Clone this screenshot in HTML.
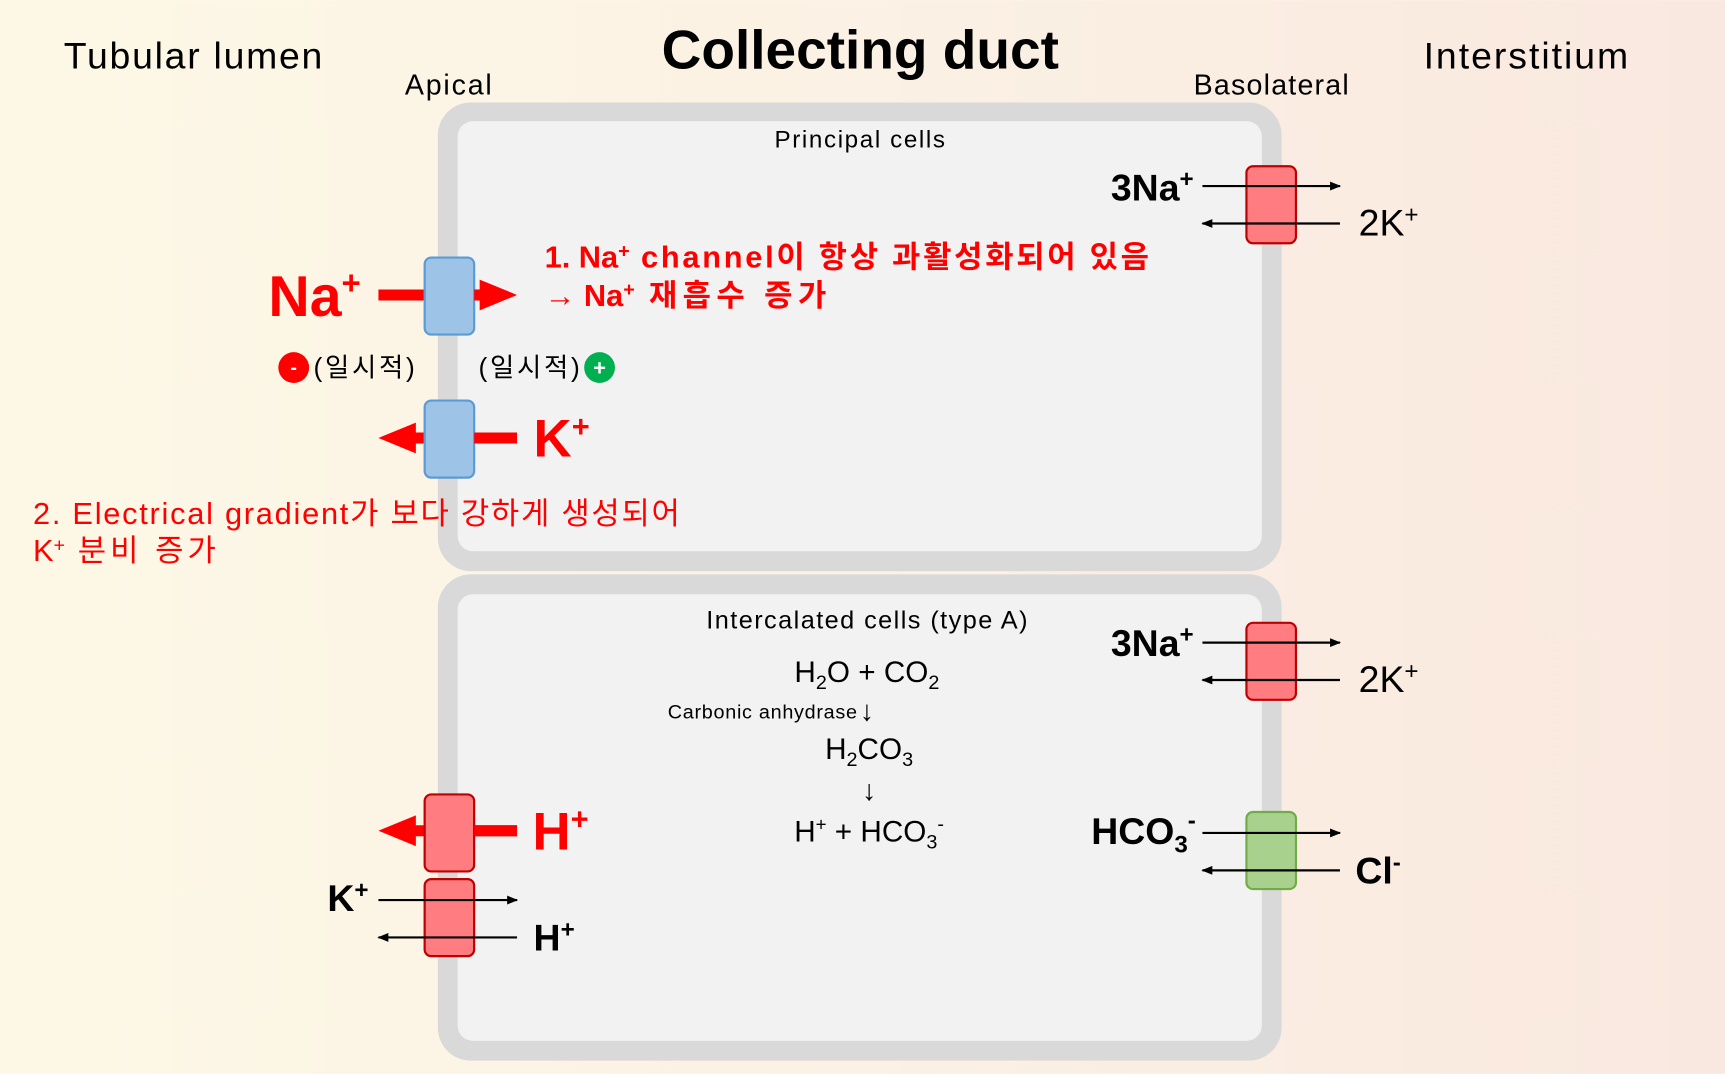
<!DOCTYPE html>
<html><head><meta charset="utf-8"><style>
html,body{margin:0;padding:0;width:1725px;height:1074px;overflow:hidden}
svg{display:block}
text{font-family:"Liberation Sans","Noto Sans CJK KR",sans-serif}
</style></head><body>
<svg width="1725" height="1074" viewBox="0 0 1568 976" xmlns="http://www.w3.org/2000/svg">
<defs>
<linearGradient id="bg" x1="0" x2="1" y1="0" y2="0">
<stop offset="0" stop-color="#fdf8e6"/><stop offset="0.5" stop-color="#fbf1e4"/><stop offset="1" stop-color="#f9e8df"/>
</linearGradient>
<marker id="ah" markerWidth="10" markerHeight="8" refX="9" refY="4" orient="auto" markerUnits="userSpaceOnUse"><path d="M0,0 L10,4 L0,8 Z" fill="#000"/></marker>
</defs>
<rect width="1568" height="976" fill="url(#bg)"/>
<rect x="398" y="93" width="767" height="426" rx="30" fill="#d9d9d9"/>
<rect x="416" y="110" width="731" height="391" rx="14" fill="#f2f2f2"/>
<rect x="398" y="522" width="767" height="442" rx="30" fill="#d9d9d9"/>
<rect x="416" y="540" width="731" height="406" rx="14" fill="#f2f2f2"/>

<text x="58" y="62" font-size="34" textLength="235">Tubular lumen</text>
<text x="782" y="62" font-size="50" font-weight="bold" text-anchor="middle">Collecting duct</text>
<text x="1294" y="62" font-size="34" textLength="186">Interstitium</text>
<text x="368" y="86" font-size="26" textLength="79">Apical</text>
<text x="1085" y="86" font-size="26" textLength="141">Basolateral</text>
<text x="704" y="134" font-size="22" textLength="155">Principal cells</text>

<rect x="1133" y="151" width="45" height="70" rx="6" fill="#ff7c80" stroke="#c00000" stroke-width="2"/>
<line x1="1093" y1="169" x2="1218" y2="169" stroke="#000" stroke-width="2" marker-end="url(#ah)"/>
<line x1="1218" y1="203" x2="1093" y2="203" stroke="#000" stroke-width="2" marker-end="url(#ah)"/>
<text x="1085" y="182" font-size="34" font-weight="bold" text-anchor="end">3Na<tspan font-size="22" dy="-12">+</tspan></text>
<text x="1235" y="214" font-size="34">2K<tspan font-size="22" dy="-12">+</tspan></text>

<line x1="344" y1="268" x2="440" y2="268" stroke="#ff0000" stroke-width="10"/>
<path d="M436,254 L470,268 L436,282 Z" fill="#ff0000"/>
<rect x="386" y="234" width="45" height="70" rx="6" fill="#9dc3e6" stroke="#5b9bd5" stroke-width="2"/>
<line x1="431" y1="268" x2="440" y2="268" stroke="#ff0000" stroke-width="10"/>
<text x="244" y="287" font-size="52" font-weight="bold" fill="#ff0000">Na<tspan font-size="30" dy="-20">+</tspan></text>
<text x="495" y="243" font-size="28" font-weight="bold" fill="#ff0000">1. Na<tspan font-size="18" dy="-9">+</tspan><tspan dy="9" textLength="472"> channel이 항상 과활성화되어 있음</tspan></text>
<text x="495" y="278" font-size="28" font-weight="bold" fill="#ff0000">→ Na<tspan font-size="18" dy="-9">+</tspan><tspan dy="9" textLength="174"> 재흡수 증가</tspan></text>

<circle cx="267" cy="334" r="14" fill="#ff0000"/>
<text x="267" y="340" font-size="18" font-weight="bold" fill="#fff" text-anchor="middle">-</text>
<text x="285" y="342" font-size="24" textLength="92">(일시적)</text>
<text x="435" y="342" font-size="24" textLength="92">(일시적)</text>
<circle cx="545" cy="334" r="14" fill="#00b050"/>
<text x="545" y="341" font-size="20" font-weight="bold" fill="#fff" text-anchor="middle">+</text>

<line x1="470" y1="398" x2="370" y2="398" stroke="#ff0000" stroke-width="10"/>
<path d="M378,384 L344,398 L378,412 Z" fill="#ff0000"/>
<rect x="386" y="364" width="45" height="70" rx="6" fill="#9dc3e6" stroke="#5b9bd5" stroke-width="2"/>
<line x1="431" y1="398" x2="470" y2="398" stroke="#ff0000" stroke-width="10"/>
<text x="485" y="415" font-size="48" font-weight="bold" fill="#ff0000">K<tspan font-size="28" dy="-18">+</tspan></text>

<text x="30" y="476" font-size="28" fill="#ff0000" textLength="588">2. Electrical gradient가 보다 강하게 생성되어</text>
<text x="30" y="510" font-size="28" fill="#ff0000">K<tspan font-size="18" dy="-9">+</tspan><tspan dy="9" textLength="137"> 분비 증가</tspan></text>

<text x="642" y="571" font-size="23" textLength="292">Intercalated cells (type A)</text>
<text x="788" y="620" font-size="27" text-anchor="middle">H<tspan font-size="18" dy="6">2</tspan><tspan dy="-6">O + CO</tspan><tspan font-size="18" dy="6">2</tspan></text>
<text x="607" y="653" font-size="18" textLength="172">Carbonic anhydrase</text>
<text x="788" y="655" font-size="26" text-anchor="middle">↓</text>
<text x="790" y="690" font-size="27" text-anchor="middle">H<tspan font-size="18" dy="6">2</tspan><tspan dy="-6">CO</tspan><tspan font-size="18" dy="6">3</tspan></text>
<text x="790" y="727" font-size="26" text-anchor="middle">↓</text>
<text x="790" y="765" font-size="27" text-anchor="middle">H<tspan font-size="17" dy="-10">+</tspan><tspan dy="10"> + HCO</tspan><tspan font-size="18" dy="6">3</tspan><tspan font-size="18" dy="-16">-</tspan></text>

<rect x="1133" y="566" width="45" height="70" rx="6" fill="#ff7c80" stroke="#c00000" stroke-width="2"/>
<line x1="1093" y1="584" x2="1218" y2="584" stroke="#000" stroke-width="2" marker-end="url(#ah)"/>
<line x1="1218" y1="618" x2="1093" y2="618" stroke="#000" stroke-width="2" marker-end="url(#ah)"/>
<text x="1085" y="596" font-size="34" font-weight="bold" text-anchor="end">3Na<tspan font-size="22" dy="-12">+</tspan></text>
<text x="1235" y="629" font-size="34">2K<tspan font-size="22" dy="-12">+</tspan></text>

<rect x="1133" y="738" width="45" height="70" rx="6" fill="#a9d18e" stroke="#70ad47" stroke-width="2"/>
<line x1="1093" y1="757" x2="1218" y2="757" stroke="#000" stroke-width="2" marker-end="url(#ah)"/>
<line x1="1218" y1="791" x2="1093" y2="791" stroke="#000" stroke-width="2" marker-end="url(#ah)"/>
<text x="1087" y="767" font-size="34" font-weight="bold" text-anchor="end">HCO<tspan font-size="22" dy="8">3</tspan><tspan font-size="22" dy="-22">-</tspan></text>
<text x="1232" y="803" font-size="34" font-weight="bold">Cl<tspan font-size="22" dy="-12">-</tspan></text>

<line x1="470" y1="755" x2="370" y2="755" stroke="#ff0000" stroke-width="10"/>
<path d="M378,741 L344,755 L378,769 Z" fill="#ff0000"/>
<rect x="386" y="722" width="45" height="70" rx="6" fill="#ff7c80" stroke="#c00000" stroke-width="2"/>
<line x1="431" y1="755" x2="470" y2="755" stroke="#ff0000" stroke-width="10"/>
<text x="484" y="772" font-size="48" font-weight="bold" fill="#ff0000">H<tspan font-size="28" dy="-18">+</tspan></text>

<rect x="386" y="799" width="45" height="70" rx="6" fill="#ff7c80" stroke="#c00000" stroke-width="2"/>
<line x1="344" y1="818" x2="470" y2="818" stroke="#000" stroke-width="2" marker-end="url(#ah)"/>
<line x1="470" y1="852" x2="344" y2="852" stroke="#000" stroke-width="2" marker-end="url(#ah)"/>
<text x="335" y="828" font-size="34" font-weight="bold" text-anchor="end">K<tspan font-size="22" dy="-12">+</tspan></text>
<text x="485" y="864" font-size="34" font-weight="bold">H<tspan font-size="22" dy="-12">+</tspan></text>
</svg>
</body></html>
